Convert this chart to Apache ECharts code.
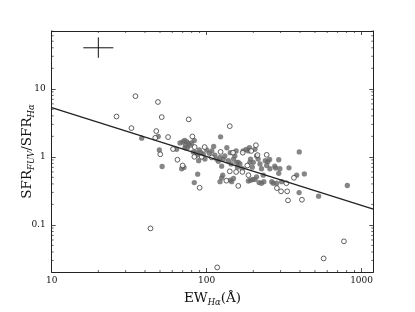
<!DOCTYPE html>
<html><head><meta charset="utf-8">
<script src="https://cdn.jsdelivr.net/npm/echarts@6/dist/echarts.min.js"></script>
<style>html,body{margin:0;padding:0;background:#fff}#c{width:415px;height:312px}</style>
</head><body><div id="c"></div>
<script>
// ---- data ----
var xTicks = [10, 100, 1000];
var yTicks = [0.1, 1, 10];
var xMinor = [20,30,40,50,60,70,80,90,200,300,400,500,600,700,800,900];
var yMinor = [0.03,0.04,0.05,0.06,0.07,0.08,0.09,0.2,0.3,0.4,0.5,0.6,0.7,0.8,0.9,2,3,4,5,6,7,8,9,20,30,40,50,60,70];
var openPts = [[26.2,3.91],[34.7,7.78],[32.7,2.64],[48.5,6.39],[51.3,3.83],[47.3,2.39],[46.6,1.90],[50.2,1.09],[56.4,1.95],[60.7,1.30],[64.8,0.906],[76.6,3.55],[70.0,0.745],[80.9,1.99],[83.7,1.39],[83.3,1.0],[90.1,0.351],[92.9,1.0],[97.1,1.39],[43.4,0.0887],[117,0.0237],[123,1.18],[141,2.82],[141,0.612],[134,0.446],[155,0.599],[160,0.374],[148,1.15],[170,0.60],[171,1.15],[183,0.745],[186,0.537],[194,1.22],[208,1.48],[213,1.06],[244,1.07],[284,0.347],[302,0.311],[327,0.409],[331,0.311],[335,0.229],[366,0.492],[412,0.234],[569,0.0321],[769,0.0573],[108,0.98]];
var filledPts = [[38.1,1.88],[48.7,1.99],[49.5,1.26],[51.6,0.721],[64.0,1.29],[67.3,1.60],[70.0,1.65],[72.1,1.74],[74.3,1.67],[76.5,1.58],[73.2,1.48],[75.1,1.36],[78.0,1.48],[80.0,1.60],[69.0,0.668],[71.4,0.698],[72.4,1.36],[83.2,1.74],[82.0,1.18],[85.4,1.15],[86.6,1.06],[88.8,0.877],[89.7,1.26],[91.9,1.15],[87.5,0.555],[83.2,0.418],[95.1,1.09],[100,1.26],[97.5,0.927],[104,1.13],[108,1.22],[111,1.42],[113,1.06],[116,0.927],[119,0.859],[122,0.979],[125,0.729],[123,1.97],[122,0.432],[127,0.537],[125,0.492],[128,0.927],[131,1.03],[135,1.36],[138,0.877],[142,1.15],[144,0.787],[149,0.927],[152,1.03],[155,1.22],[149,0.481],[142,0.456],[145,0.432],[156,0.830],[158,0.705],[160,0.830],[164,0.787],[170,0.668],[172,1.22],[180,1.29],[186,1.22],[189,1.36],[192,0.927],[190,0.830],[197,0.705],[200,0.830],[186,0.441],[192,0.451],[198,0.466],[205,0.466],[205,1.29],[210,1.03],[215,0.927],[221,0.787],[226,0.668],[232,0.537],[239,0.877],[244,0.745],[248,0.849],[218,0.418],[226,0.409],[234,0.432],[210,0.508],[255,0.917],[256,0.668],[263,0.432],[269,0.409],[275,0.729],[279,0.683],[292,0.906],[292,0.573],[297,0.668],[283,0.409],[305,0.432],[340,0.69],[396,1.18],[427,0.561],[395,0.298],[381,0.537],[528,0.264],[809,0.379]];
var fitLine = [[10,5.3],[1190,0.17]];
var errH = [[16,40],[25,40]];
var errV = [[20,28.5],[20,57]];
var xRange = [10, 1190];
var yRange = [0.0203, 70.6];

var FONT = 'DejaVu Serif';
function fmt(v){
  for (var i=0;i<xTicks.length;i++) if (Math.abs(v-xTicks[i])/xTicks[i]<1e-6) return String(xTicks[i]);
  for (var j=0;j<yTicks.length;j++) if (Math.abs(v-yTicks[j])/yTicks[j]<1e-6) return String(yTicks[j]);
  return '';
}
var axisCommon = {
  type:'log', logBase:10,
  axisLine:{show:true,lineStyle:{color:'#222',width:1}},
  axisTick:{show:true,inside:true,length:4,lineStyle:{color:'#222',width:0.8}},
  splitLine:{show:false}, minorTick:{show:false}
};
function ax(extra){return Object.assign({}, JSON.parse(JSON.stringify(axisCommon)), extra);}

var chart = echarts.init(document.getElementById('c'), null, {renderer:'canvas'});
chart.setOption({
  animation:false,
  backgroundColor:'#fff',
  grid:{left:51.7, right:41.7, top:31, bottom:32, containLabel:false},
  xAxis:[
    ax({position:'bottom', min:xRange[0], max:xRange[1],
      axisLabel:{show:true, margin:4, color:'#111', fontFamily:FONT, fontSize:9, formatter:fmt},
      name:'{m|EW}{s|Hα}{m|(Å)}', nameLocation:'middle', nameGap:17, nameMoveOverlap:false,
      nameTextStyle:{rich:{
        m:{fontFamily:FONT,fontSize:13.5,color:'#111',lineHeight:18},
        s:{fontFamily:FONT,fontSize:8.5,fontStyle:'italic',color:'#111',lineHeight:10,verticalAlign:'bottom'}
      }}}),
    ax({position:'top', min:xRange[0], max:xRange[1], axisLabel:{show:false}})
  ],
  yAxis:[
    ax({position:'left', min:yRange[0], max:yRange[1],
      axisLabel:{show:true, margin:6, color:'#111', fontFamily:FONT, fontSize:9, formatter:fmt},
      name:'{m|SFR}{s|FUV}{m|/SFR}{s|Hα}', nameLocation:'middle', nameGap:15, nameMoveOverlap:false,
      nameTextStyle:{rich:{
        m:{fontFamily:FONT,fontSize:13.5,color:'#111',lineHeight:18},
        s:{fontFamily:FONT,fontSize:8.5,fontStyle:'italic',color:'#111',lineHeight:10,verticalAlign:'bottom'}
      }}}),
    ax({position:'right', min:yRange[0], max:yRange[1], axisLabel:{show:false}})
  ],
  series:[
    {type:'scatter', data:filledPts, symbol:'circle', symbolSize:5.3,
      itemStyle:{color:'#686868'}, silent:true},
    {type:'scatter', data:openPts, symbol:'circle', symbolSize:4.8,
      itemStyle:{color:'#fff', borderColor:'#3a3a3a', borderWidth:1}, silent:true},
    {type:'line', data:fitLine, symbol:'none', lineStyle:{color:'#222',width:1.3}, silent:true},
    {type:'line', data:errH, symbol:'none', lineStyle:{color:'#111',width:1}, silent:true},
    {type:'line', data:errV, symbol:'none', lineStyle:{color:'#111',width:1}, silent:true},
    {type:'custom', data:xMinor.map(function(v){return [v,1];}), clip:false, silent:true,
      renderItem:function(params, api){
        var cs = params.coordSys; var p = api.coord([api.value(0), 1]);
        var st = {stroke:'#222', lineWidth:0.7};
        return {type:'group', children:[
          {type:'line', shape:{x1:p[0],y1:cs.y+cs.height,x2:p[0],y2:cs.y+cs.height-2}, style:st},
          {type:'line', shape:{x1:p[0],y1:cs.y,x2:p[0],y2:cs.y+2}, style:st}
        ]};
      }},
    {type:'custom', data:yMinor.map(function(v){return [10,v];}), clip:false, silent:true,
      renderItem:function(params, api){
        var cs = params.coordSys; var p = api.coord([10, api.value(1)]);
        var st = {stroke:'#222', lineWidth:0.7};
        return {type:'group', children:[
          {type:'line', shape:{x1:cs.x,y1:p[1],x2:cs.x+2,y2:p[1]}, style:st},
          {type:'line', shape:{x1:cs.x+cs.width,y1:p[1],x2:cs.x+cs.width-2,y2:p[1]}, style:st}
        ]};
      }}
  ]
});
</script></body></html>
